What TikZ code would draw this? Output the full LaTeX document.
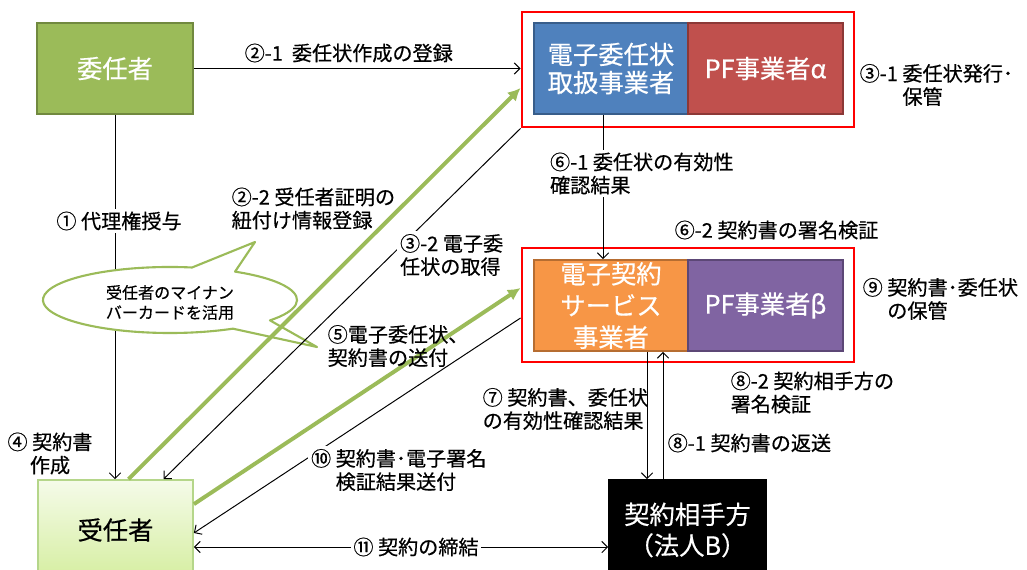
\documentclass[tikz,border=0pt]{standalone}
\usepackage{fontspec}
\setmainfont{Noto Sans CJK JP}[UprightFeatures={FakeBold=0.5}]
\usetikzlibrary{calc,arrows.meta}
\definecolor{cOlive}{HTML}{9BBB59}
\definecolor{cOliveD}{HTML}{71893F}
\definecolor{cBlue}{HTML}{4F81BD}
\definecolor{cBlueD}{HTML}{385D8A}
\definecolor{cRed}{HTML}{C0504D}
\definecolor{cRedD}{HTML}{8C3836}
\definecolor{cOrange}{HTML}{F79646}
\definecolor{cOrangeD}{HTML}{B66D31}
\definecolor{cPurple}{HTML}{8064A2}
\definecolor{cPurpleD}{HTML}{5C4776}
\definecolor{cJuTop}{HTML}{F5FBE9}
\definecolor{cJuBot}{HTML}{D5EEA0}
\definecolor{cJuD}{HTML}{B5D68A}
\begin{document}
\begin{tikzpicture}[x=0.025cm,y=-0.025cm,
  box/.style={draw,line width=1.2pt,text=white,align=center,font=\fontsize{18}{20}\selectfont,minimum height=2.275cm,inner sep=0pt},
  frame/.style={draw=red,line width=2pt,minimum width=8.3cm,inner sep=0pt},
  lbl/.style={align=left,font=\fontsize{14.3}{16.5}\selectfont,inner sep=1pt},
  wlbl/.style={lbl,fill=white,inner sep=2pt},
  barrow/.style={line width=0.7pt,-{Straight Barb[length=4pt,width=8pt]}},
  bbarrow/.style={line width=0.7pt,{Straight Barb[length=4pt,width=8pt]}-{Straight Barb[length=4pt,width=8pt]}},
  garrow/.style={draw=cOlive,line width=2.8pt,-{Latex[length=9pt,width=9pt]}},
  bubble/.style={draw=cOlive,line width=1.5pt,fill=white,line join=round}]
\useasboundingbox (0,0) rectangle (1027,570);
\node[box,fill=cOlive,draw=cOliveD,minimum width=3.9cm] (inin) at (115,68.5) {委任者};
\node[frame,minimum height=2.875cm] (fr1) at (688,69.5) {};
\node[box,fill=cBlue,draw=cBlueD,minimum width=3.85cm] (densi) at (611,68.5) {電子委任状\\取扱事業者};
\node[box,fill=cRed,draw=cRedD,minimum width=3.875cm] (pfa) at (765.5,68.5) {PF事業者α};
\node[frame,minimum height=2.85cm] (fr2) at (688,305) {};
\node[box,fill=cOrange,draw=cOrangeD,minimum width=3.85cm,font=\fontsize{18}{22.5}\selectfont] (keiyaku) at (611,305.5) {電子契約\\サービス\\事業者};
\node[box,fill=cPurple,draw=cPurpleD,minimum width=3.875cm] (pfb) at (765.5,305.5) {PF事業者β};
\node[box,fill=black,draw=black,minimum width=3.925cm,minimum height=2.5cm,font=\fontsize{18}{22}\selectfont] (aite) at (687.5,530) {契約相手方\\（法人B）};
\node[box,top color=cJuTop,bottom color=cJuBot,draw=cJuD,text=black,minimum width=3.875cm,minimum height=2.5cm] (junin) at (115.5,530) {受任者};

\draw[barrow] (inin.south) -- (inin.south |- junin.north);
\draw[barrow] (inin.east) -- (inin.east -| fr1.west);
\draw[barrow] ($(densi.south)+(-8,0)$) -- ($(keiyaku.north)+(-8,0)$);
\coordinate (k7) at ($(keiyaku.south)+(36,0)$);
\draw[barrow] (k7) -- (k7 |- aite.north);
\coordinate (a81) at ($(aite.north)+(-24.5,0)$);
\draw[barrow] (a81) -- (a81 |- keiyaku.south);
\coordinate (j11) at ($(junin.east)+(0,17)$);
\draw[bbarrow] (j11) -- (j11 -| aite.west);

\coordinate (bc) at (170,300);
\coordinate (tipT) at (255,242);
\coordinate (tipR) at (317,347);
\draw[bubble] ($(bc)+(-60.3:3.175cm and 0.825cm)$) -- (tipR) -- ($(bc)+(-38.1:3.175cm and 0.825cm)$)
  arc[start angle=-38.1,end angle=59.2,x radius=3.175cm,y radius=0.825cm] -- (tipT)
  -- ($(bc)+(80:3.175cm and 0.825cm)$)
  arc[start angle=80,end angle=299.7,x radius=3.175cm,y radius=0.825cm] -- cycle;
\node[font=\fontsize{11.4}{14.2}\selectfont,align=center] (bubtxt) at (170,302.5) {受任者のマイナン\\バーカードを活用};

\draw[barrow] (fr1.south west) -- ($(junin.north)+(48,0)$);
\draw[barrow] ($(fr2.west)+(0,13)$) -- ($(junin.east)+(0,3)$);
\draw[garrow] ($(junin.north)+(13,0)$) -- ($(fr1.west)+(0,18.5)$);
\draw[garrow] ($(junin.north east)+(0,25)$) -- ($(fr2.west)+(0,-17)$);

\node[lbl,anchor=west] (l21) at (243,53) {②-1\ \ 委任状作成の登録};
\node[wlbl] (l1) at (119,221) {① 代理権授与};
\node[lbl,anchor=west] (l22) at (230,208.5) {②-2 受任者証明の\\紐付け情報登録};
\node[wlbl,anchor=west] (l32) at (397,255) {③-2 電子委\\任状の取得};
\node[lbl,anchor=west] (l31) at (858,85) {③-1 委任状発行･\\\phantom{③-1 }保管};
\node[wlbl,anchor=west] (l61) at (547,173.5) {⑥-1 委任状の有効性\\確認結果};
\node[lbl,anchor=west] (l62) at (673,230) {⑥-2 契約書の署名検証};
\node[lbl,anchor=west] (l9) at (861,299) {⑨ 契約書･委任状\\\phantom{⑨ }の保管};
\node[lbl,anchor=west] (l7) at (481,409) {⑦ 契約書、委任状\\の有効性確認結果};
\node[lbl,anchor=west] (l82) at (729,392.5) {⑧-2 契約相手方の\\署名検証};
\node[lbl,anchor=west] (l81) at (666,443) {⑧-1 契約書の返送};
\node[wlbl,anchor=west] (l10) at (308,470) {⑩ 契約書･電子署名\\\phantom{⑩ }検証結果送付};
\node[lbl,anchor=west] (l5) at (326,346) {⑤電子委任状、\\契約書の送付};
\node[lbl,align=center] (l4) at (50,453.5) {④ 契約書\\作成};
\node[wlbl] (l11) at (416,547) {⑪ 契約の締結};
\end{tikzpicture}
\end{document}
